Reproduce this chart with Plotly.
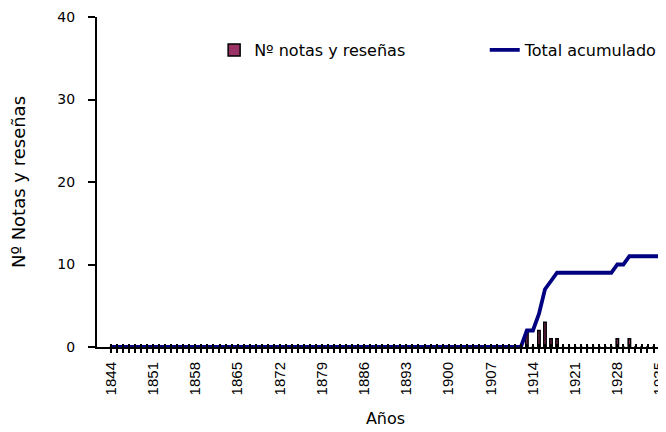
import plotly.graph_objects as go

# ---- data ----
years = list(range(1844, 1938))
notas = [0] * 69 + [2, 0, 2, 3, 1, 1] + [0] * 9 + [1, 0, 1] + [0] * 7
acumulado = [0] * 69 + [2, 2, 4, 7, 8, 9] + [9] * 9 + [10, 10] + [11] * 8
label_years = list(range(1844, 1938, 7))
y_ticks = [0, 10, 20, 30, 40]

FONT = "DejaVu Sans, sans-serif"
FONT_NUM = "Liberation Sans, Arial, sans-serif"

tick_text = [str(y) if y in label_years else "" for y in years]

fig = go.Figure()
fig.add_bar(
    x=years, y=notas, name="Nº notas y reseñas",
    marker=dict(color="#993366", line=dict(color="black", width=1.5)),
    width=0.4, legend="legend",
)
fig.add_scatter(
    x=years, y=acumulado, mode="lines", name="Total acumulado",
    line=dict(color="#000080", width=3.8), legend="legend2",
)

leg_common = dict(
    orientation="h", xanchor="left", y=0.9, yanchor="middle",
    font=dict(size=16, family=FONT, color="black"), bgcolor="rgba(0,0,0,0)",
)

fig.update_layout(
    width=666, height=432,
    margin=dict(l=89, r=0, t=9, b=93, autoexpand=False),
    paper_bgcolor="white", plot_bgcolor="white",
    font=dict(family=FONT, color="black", size=14),
    showlegend=True,
    legend=dict(x=0.203, **leg_common),
    legend2=dict(x=0.672, **leg_common),
)

fig.update_xaxes(
    range=[1841.7, 1937.4],
    tickmode="array", tickvals=years, ticktext=tick_text,
    ticks="outside", ticklen=4, tickwidth=2, tickcolor="black",
    minor=dict(tickmode="array", tickvals=[y + 0.02 for y in years],
               ticks="inside", ticklen=3, tickwidth=2, tickcolor="black"),
    tickangle=-90, tickfont=dict(size=15, family=FONT_NUM),
    ticklabelstandoff=3, ticklabeloverflow="allow",
    showline=True, linecolor="black", linewidth=2,
    showgrid=False, zeroline=False, automargin=False,
    title=dict(text="Años", font=dict(size=16, family=FONT), standoff=18),
)
fig.update_yaxes(
    range=[0, 40], tickmode="array", tickvals=y_ticks,
    ticks="outside", ticklen=7, tickwidth=2, tickcolor="black",
    tickfont=dict(size=14, family=FONT), ticklabelstandoff=10,
    ticklabeloverflow="allow",
    showline=True, linecolor="black", linewidth=2,
    showgrid=False, zeroline=False, automargin=False,
    title=dict(text="Nº Notas y reseñas", font=dict(size=18, family=FONT), standoff=34),
)

fig.write_html("out.html")
